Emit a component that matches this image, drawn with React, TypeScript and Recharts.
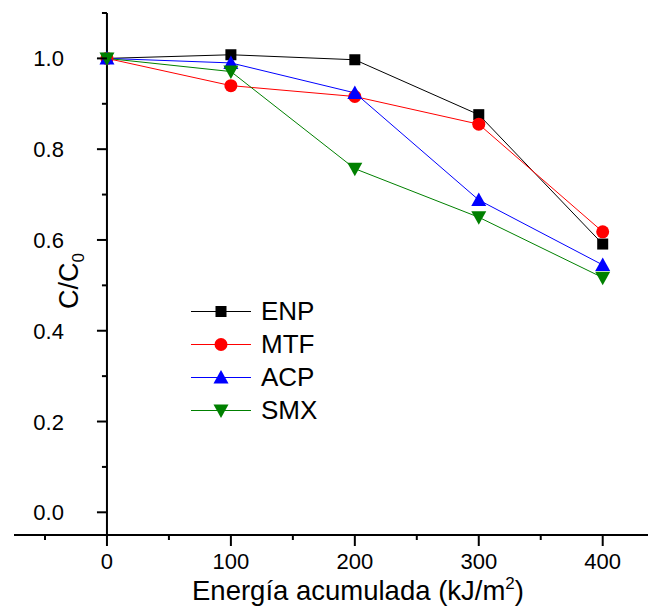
import { LineChart, Line, XAxis, YAxis, ReferenceLine, Legend } from "recharts";

const energy = [0, 100, 200, 300, 400];
const enp = [1.0, 1.008, 0.997, 0.876, 0.591];
const mtf = [1.0, 0.94, 0.916, 0.855, 0.618];
const acp = [1.0, 0.99, 0.924, 0.688, 0.545];
const smx = [1.0, 0.971, 0.757, 0.65, 0.517];

const xTicks = [-50, 0, 50, 100, 150, 200, 250, 300, 350, 400];
const yTicks = [0, 0.1, 0.2, 0.3, 0.4, 0.5, 0.6, 0.7, 0.8, 0.9, 1.0, 1.1];

const FONT = "'Liberation Sans', Arial, Helvetica, sans-serif";

const series = [
  { key: "ENP", color: "#000000", shape: "square" },
  { key: "MTF", color: "#ff0000", shape: "circle" },
  { key: "ACP", color: "#0000ff", shape: "up" },
  { key: "SMX", color: "#008000", shape: "down" },
];

const data = energy.map((e, i) => ({
  e,
  ENP: enp[i],
  MTF: mtf[i],
  ACP: acp[i],
  SMX: smx[i],
}));

// layout
const W = 648;
const H = 604;
const M = { top: 5, right: 0, left: 5, bottom: 17 };
const Y_W = 1;
const X_H = 60;
const X_DOMAIN = [-75, 443];
const PLOT_LEFT = M.left + Y_W;
const PLOT_W = W - PLOT_LEFT - M.right;
const PLOT_BOTTOM = H - M.bottom - X_H;
const AXIS_X = PLOT_LEFT + ((0 - X_DOMAIN[0]) / (X_DOMAIN[1] - X_DOMAIN[0])) * PLOT_W;

function Marker({ cx, cy, shape, color }: any) {
  if (cx == null || cy == null) return null;
  if (shape === "square") {
    return <rect x={cx - 5.5} y={cy - 5.5} width={11} height={11} fill={color} />;
  }
  if (shape === "circle") {
    return <circle cx={cx} cy={cy} r={6.5} fill={color} />;
  }
  if (shape === "up") {
    return (
      <polygon
        points={`${cx},${cy - 7.5} ${cx + 7.5},${cy + 6} ${cx - 7.5},${cy + 6}`}
        fill={color}
      />
    );
  }
  return (
    <polygon
      points={`${cx},${cy + 7.5} ${cx + 7.5},${cy - 6} ${cx - 7.5},${cy - 6}`}
      fill={color}
    />
  );
}

function XTick({ x, payload }: any) {
  const v = payload.value;
  const major = v % 100 === 0;
  return (
    <g>
      <line x1={x} x2={x} y1={PLOT_BOTTOM} y2={PLOT_BOTTOM + (major ? 11 : 5)} stroke="#000" strokeWidth={2} />
      {major && (
        <text x={x} y={PLOT_BOTTOM + 34} textAnchor="middle" fontSize={22} fontFamily={FONT} fill="#000">
          {v}
        </text>
      )}
    </g>
  );
}

function YTick({ y, payload }: any) {
  const v = payload.value;
  const major = Math.round(v * 10) % 2 === 0;
  return (
    <g>
      <line x1={AXIS_X - (major ? 10 : 5)} x2={AXIS_X} y1={y} y2={y} stroke="#000" strokeWidth={2} />
      {major && (
        <text x={AXIS_X - 43} y={y + 8} textAnchor="end" fontSize={22} fontFamily={FONT} fill="#000">
          {v.toFixed(1)}
        </text>
      )}
    </g>
  );
}

function LegendBox() {
  return (
    <div style={{ fontFamily: FONT, fontSize: 26, color: "#000" }}>
      {series.map((s) => (
        <div key={s.key} style={{ display: "flex", alignItems: "center", height: 33 }}>
          <svg width={62} height={33}>
            <line x1={0} x2={60} y1={16.5} y2={16.5} stroke={s.color} strokeWidth={1} />
            <Marker cx={30} cy={16.5} shape={s.shape} color={s.color} />
          </svg>
          <span style={{ marginLeft: 8, lineHeight: "33px" }}>{s.key}</span>
        </div>
      ))}
    </div>
  );
}

export default function App() {
  return (
    <LineChart width={W} height={H} data={data} margin={M}>
      <XAxis
        dataKey="e"
        type="number"
        domain={X_DOMAIN}
        allowDataOverflow
        ticks={xTicks}
        interval={0}
        height={X_H}
        tickLine={false}
        axisLine={{ stroke: "#000", strokeWidth: 2 }}
        tick={<XTick />}
        label={() => (
          <text x={350} y={592} textAnchor="middle" fontSize={27.5} fontFamily={FONT} fill="#000">
            Energía acumulada (kJ/m
            <tspan fontSize={17} dy={-11}>2</tspan>
            <tspan dy={11}>)</tspan>
          </text>
        )}
      />
      <YAxis
        type="number"
        domain={[-0.05, 1.1]}
        allowDataOverflow
        ticks={yTicks}
        interval={0}
        width={Y_W}
        tickLine={false}
        axisLine={false}
        tick={<YTick />}
        label={() => (
          <text
            x={70}
            y={273}
            transform="rotate(-90 70 273)"
            textAnchor="middle"
            fontSize={27}
            fontFamily={FONT}
            fill="#000"
          >
            C/C
            <tspan fontSize={17} dy={6}>0</tspan>
          </text>
        )}
      />
      <ReferenceLine x={0} stroke="#000" strokeWidth={2} />
      <Legend
        layout="vertical"
        align="center"
        verticalAlign="middle"
        content={() => <LegendBox />}
        wrapperStyle={{ left: 183, top: 287, width: "auto" }}
      />
      {series.map((s) => (
        <Line
          key={s.key}
          dataKey={s.key}
          stroke={s.color}
          strokeWidth={1}
          isAnimationActive={false}
          dot={(p: any) => <Marker key={`${s.key}-${p.index}`} cx={p.cx} cy={p.cy} shape={s.shape} color={s.color} />}
          activeDot={false}
        />
      ))}
    </LineChart>
  );
}
